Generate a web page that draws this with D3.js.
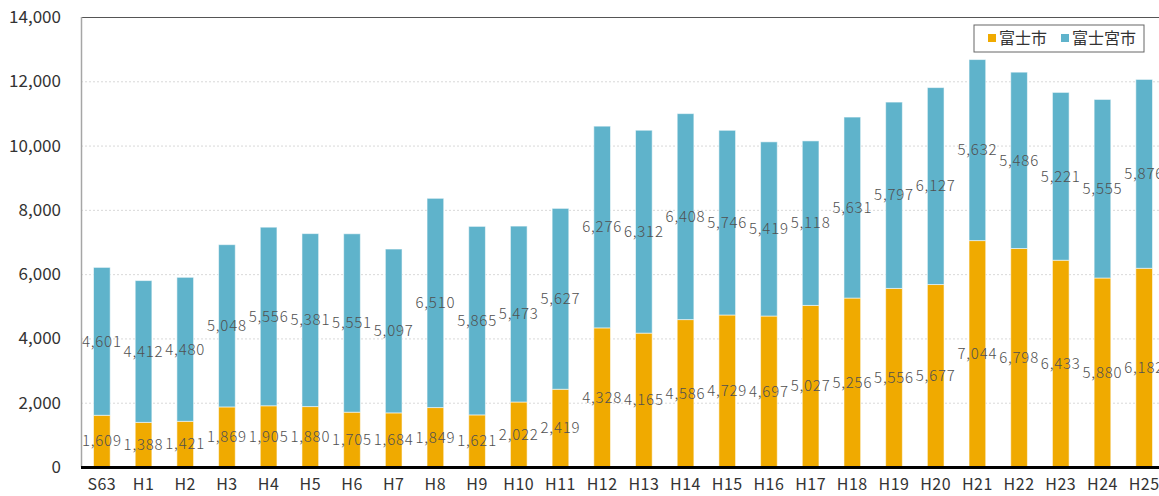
<!DOCTYPE html>
<html>
<head>
<meta charset="utf-8">
<script src="https://cdn.jsdelivr.net/npm/d3@7"></script>
<style>
  html, body { margin: 0; padding: 0; background: #fff; overflow: hidden; }
  svg { display: block; font-family: "Noto Sans CJK JP", "Liberation Sans", sans-serif; }
</style>
</head>
<body>
<div id="chart"></div>
<script>
// ---------------- データ ----------------
const years = ['S63','H1','H2','H3','H4','H5','H6','H7','H8','H9','H10','H11','H12',
  'H13','H14','H15','H16','H17','H18','H19','H20','H21','H22','H23','H24','H25'];
const fuji = [1609,1388,1421,1869,1905,1880,1705,1684,1849,1621,2022,2419,4328,
  4165,4586,4729,4697,5027,5256,5556,5677,7044,6798,6433,5880,6182];
const fujinomiya = [4601,4412,4480,5048,5556,5381,5551,5097,6510,5865,5473,5627,6276,
  6312,6408,5746,5419,5118,5631,5797,6127,5632,5486,5221,5555,5876];
const seriesNames = ['富士市','富士宮市'];
const colors = ['#F0AA00','#5FB3CB'];
const yTicks = [0,2000,4000,6000,8000,10000,12000,14000];

const W = 1159, H = 496;
const margin = { top: 17, left: 81 };
const plotH = 450;
const plotW = 1084; // はみ出して右端が切れる

const svg = d3.select('#chart').append('svg')
  .attr('width', W).attr('height', H);

const x = d3.scaleBand().domain(years).range([margin.left, margin.left + plotW]).paddingInner(0.6).paddingOuter(0.3);
const y = d3.scaleLinear().domain([0, 14000]).range([margin.top + plotH, margin.top]);

// グリッド
svg.append('g').selectAll('line')
  .data(yTicks.filter(d => d > 0 && d < 14000))
  .enter().append('line')
  .attr('x1', margin.left).attr('x2', W)
  .attr('y1', d => y(d) + 0.5).attr('y2', d => y(d) + 0.5)
  .attr('stroke', '#d9d9d9').attr('stroke-dasharray', '2,2');

// 上枠
svg.append('line')
  .attr('x1', margin.left).attr('x2', W)
  .attr('y1', margin.top + 0.5).attr('y2', margin.top + 0.5)
  .attr('stroke', '#555').attr('stroke-width', 1.2);

// 積み上げ
const rows = years.map((yr, i) => ({ year: yr, a: fuji[i], b: fujinomiya[i] }));
const stack = d3.stack().keys(['a','b'])(rows);

const groups = svg.append('g').selectAll('g')
  .data(stack).enter().append('g')
  .attr('fill', (d, i) => colors[i]);

groups.selectAll('rect')
  .data(d => d).enter().append('rect')
  .attr('x', d => x(d.data.year))
  .attr('width', x.bandwidth())
  .attr('y', d => y(d[1]))
  .attr('height', d => y(d[0]) - y(d[1]))
  .attr('stroke', 'rgba(255,255,255,0.55)')
  .attr('stroke-width', 1);

// 値ラベル
groups.selectAll('text')
  .data(d => d).enter().append('text')
  .attr('x', d => x(d.data.year) + x.bandwidth() / 2)
  .attr('y', d => y((d[0] + d[1]) / 2))
  .attr('dy', '0.35em')
  .attr('text-anchor', 'middle')
  .attr('fill', '#505050')
  .style('font-size', '15px')
  .style('font-weight', 300)
  .style('letter-spacing', '0.8px')
  .text(d => d3.format(',')(d[1] - d[0]));

// Y軸
svg.append('line')
  .attr('x1', margin.left + 0.5).attr('x2', margin.left + 0.5)
  .attr('y1', margin.top).attr('y2', margin.top + plotH)
  .attr('stroke', '#a6a6a6').attr('stroke-width', 1.5);

svg.append('g').selectAll('text')
  .data(yTicks).enter().append('text')
  .attr('x', 61)
  .attr('y', d => y(d))
  .attr('dy', '0.35em')
  .attr('text-anchor', 'end')
  .attr('fill', '#333')
  .style('font-size', '17px')
  .text(d => d3.format(',')(d));

// X軸
svg.append('line')
  .attr('x1', margin.left).attr('x2', W)
  .attr('y1', margin.top + plotH + 0.5).attr('y2', margin.top + plotH + 0.5)
  .attr('stroke', '#000').attr('stroke-width', 3);

svg.append('g').selectAll('text')
  .data(years).enter().append('text')
  .attr('x', d => x(d) + x.bandwidth() / 2)
  .attr('y', 484)
  .attr('dy', '0.35em')
  .attr('text-anchor', 'middle')
  .attr('fill', '#333')
  .style('font-size', '16px')
  .style('letter-spacing', '0.5px')
  .text(d => d);

// 凡例
const lg = svg.append('g').attr('transform', 'translate(974,25)');
lg.append('rect').attr('width', 170).attr('height', 27)
  .attr('fill', '#fff').attr('stroke', '#666').attr('stroke-width', 1);
const lgX = [14, 87];
seriesNames.forEach((name, i) => {
  lg.append('rect').attr('x', lgX[i]).attr('y', 9).attr('width', 8).attr('height', 8).attr('fill', colors[i]);
  lg.append('text').attr('x', lgX[i] + 11).attr('y', 13.5).attr('dy', '0.35em')
    .attr('fill', '#333').style('font-size', '16px').text(name);
});
</script>
</body>
</html>
